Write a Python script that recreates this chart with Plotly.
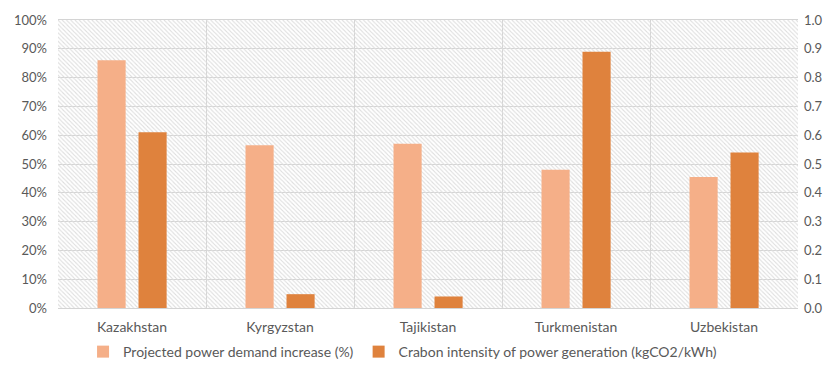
import plotly.graph_objects as go

countries = ["Kazakhstan", "Kyrgyzstan", "Tajikistan", "Turkmenistan", "Uzbekistan"]
demand_increase_pct = [86, 56.5, 57, 48, 45.5]
carbon_intensity = [0.61, 0.048, 0.04, 0.89, 0.54]
left_ticks = [0, 10, 20, 30, 40, 50, 60, 70, 80, 90, 100]
left_labels = ["0%", "10%", "20%", "30%", "40%", "50%", "60%", "70%", "80%", "90%", "100%"]
right_ticks = [0.0, 0.1, 0.2, 0.3, 0.4, 0.5, 0.6, 0.7, 0.8, 0.9, 1.0]

FONT = "Lato"
TXT = "#595959"
GRID = "#d4d4d4"
LIGHT = "#F5AF88"
DARK = "#DF823D"

fig = go.Figure()

# hatched plot-area background (decorative, main subplot drawn first)
fig.add_trace(go.Bar(
    x=[0.5], y=[1], width=[1], xaxis="x", yaxis="y",
    marker=dict(color="rgba(255,255,255,0)", line=dict(width=0),
                pattern=dict(shape="\\", fgcolor="#dedede", bgcolor="rgba(255,255,255,0)",
                             size=3, solidity=0.35, fillmode="replace")),
    showlegend=False, hoverinfo="skip"))

fig.add_trace(go.Bar(
    x=countries, y=demand_increase_pct, xaxis="x2", yaxis="y2",
    name="Projected power demand increase (%)",
    marker=dict(color=LIGHT, line=dict(width=0)),
    width=0.19, offset=-0.233))
fig.add_trace(go.Bar(
    x=countries, y=carbon_intensity, xaxis="x2", yaxis="y3",
    name="Crabon intensity of power generation (kgCO2/kWh)",
    marker=dict(color=DARK, line=dict(width=0)),
    width=0.19, offset=0.044))

fig.update_layout(
    width=830, height=369,
    margin=dict(l=58, r=32, t=20, b=61, autoexpand=False),
    paper_bgcolor="white", plot_bgcolor="white",
    font=dict(family=FONT, size=13, color=TXT),
    xaxis=dict(range=[0, 1], visible=False, fixedrange=True),
    yaxis=dict(range=[0, 1], visible=False, fixedrange=True),
    xaxis2=dict(overlaying="x", type="category", tickson="boundaries",
                showgrid=True, gridcolor=GRID, gridwidth=1,
                showline=True, linecolor=GRID, mirror=True, automargin=False,
                ticks="", ticklabelstandoff=6, range=[-0.5, 4.5],
                tickfont=dict(size=14)),
    yaxis2=dict(overlaying="y", side="left", range=[0, 100], tickvals=left_ticks,
                ticktext=left_labels, showgrid=True, gridcolor=GRID, gridwidth=1,
                zeroline=False, ticks="", ticklabelstandoff=10, automargin=False),
    yaxis3=dict(overlaying="y", side="right", range=[0, 1], tickvals=right_ticks,
                tickformat=".1f", showgrid=False, zeroline=False, ticks="",
                ticklabelstandoff=5, automargin=False),
    legend=dict(orientation="h", xref="container", yref="container",
                x=0.485, xanchor="center", y=0.046, yanchor="middle", itemwidth=30,
                bgcolor="rgba(0,0,0,0)",
                font=dict(family=FONT, size=14, color=TXT), traceorder="normal"),
    showlegend=True,
)

fig.write_html("out.html")
